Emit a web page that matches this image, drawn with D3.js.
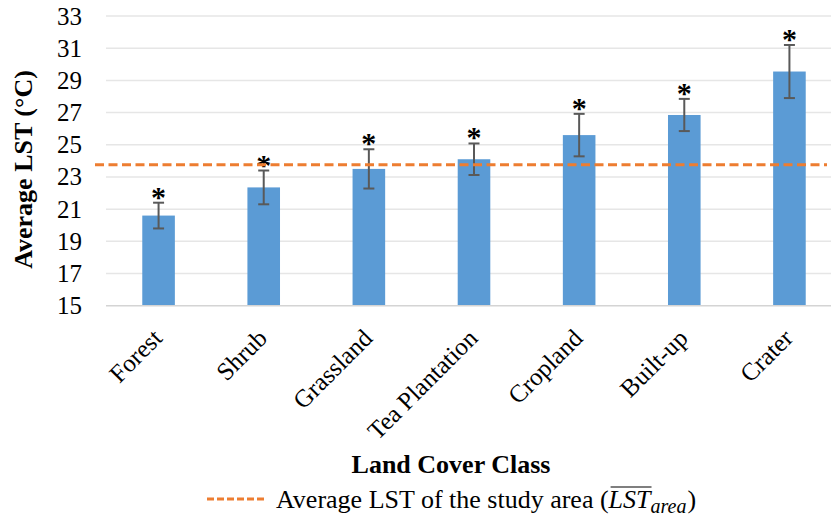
<!DOCTYPE html>
<html>
<head>
<meta charset="utf-8">
<script src="https://cdn.jsdelivr.net/npm/d3@7/dist/d3.min.js"></script>
<style>
  html, body { margin: 0; padding: 0; background: #fff; }
  svg { display: block; font-family: "Liberation Serif", "Times New Roman", serif; }
</style>
</head>
<body>
<svg id="chart" width="831" height="518"></svg>
<script>
// Average land surface temperature by land cover class
const categories = ["Forest", "Shrub", "Grassland", "Tea Plantation", "Cropland", "Built-up", "Crater"];
const meanLST = [20.6, 22.35, 23.5, 24.1, 25.6, 26.85, 29.55];
const errLST = [0.8, 1.05, 1.22, 0.98, 1.32, 1.0, 1.65];
const significance = ["*", "*", "*", "*", "*", "*", "*"];
const studyAreaLST = 23.75;
const yTicks = [15, 17, 19, 21, 23, 25, 27, 29, 31, 33];

const svg = d3.select("#chart");
const W = 831, H = 518;
const plot = { left: 106, right: 842, top: 16, bottom: 305.7 };
const serif = "Liberation Serif, Times New Roman, serif";

const x = d3.scaleBand()
  .domain(categories)
  .range([plot.left, plot.right])
  .paddingInner(0.69)
  .paddingOuter(0.345);

const y = d3.scaleLinear()
  .domain([15, 33])
  .range([plot.bottom, plot.top]);

// horizontal gridlines
svg.append("g")
  .selectAll("line")
  .data(yTicks.slice(1))
  .join("line")
  .attr("x1", plot.left).attr("x2", W)
  .attr("y1", d => y(d)).attr("y2", d => y(d))
  .attr("stroke", "#e6e6e6")
  .attr("stroke-width", 1.5);

// y axis labels
const yAxis = d3.axisLeft(y).tickValues(yTicks).tickSize(0).tickPadding(24);
const gy = svg.append("g")
  .attr("transform", `translate(${plot.left},0)`)
  .call(yAxis)
  .attr("font-family", serif);
gy.select(".domain").remove();
gy.selectAll("text")
  .attr("font-size", 25)
  .attr("fill", "#000");

// bars
svg.append("g")
  .selectAll("rect")
  .data(categories)
  .join("rect")
  .attr("x", d => x(d))
  .attr("width", x.bandwidth())
  .attr("y", (d, i) => y(meanLST[i]))
  .attr("height", (d, i) => y(15) - y(meanLST[i]))
  .attr("fill", "#5b9bd5");

// baseline
svg.append("line")
  .attr("x1", plot.left).attr("x2", W)
  .attr("y1", y(15)).attr("y2", y(15))
  .attr("stroke", "#d4d4d4")
  .attr("stroke-width", 1.5);

// error bars
const capHalf = 5.5;
const eb = svg.append("g")
  .attr("stroke", "#595959")
  .attr("stroke-width", 2)
  .selectAll("g")
  .data(categories)
  .join("g")
  .attr("transform", d => `translate(${x(d) + x.bandwidth() / 2},0)`);
eb.append("line")
  .attr("y1", (d, i) => y(meanLST[i] + errLST[i]))
  .attr("y2", (d, i) => y(meanLST[i] - errLST[i]));
eb.append("line")
  .attr("x1", -capHalf).attr("x2", capHalf)
  .attr("y1", (d, i) => y(meanLST[i] + errLST[i]))
  .attr("y2", (d, i) => y(meanLST[i] + errLST[i]));
eb.append("line")
  .attr("x1", -capHalf).attr("x2", capHalf)
  .attr("y1", (d, i) => y(meanLST[i] - errLST[i]))
  .attr("y2", (d, i) => y(meanLST[i] - errLST[i]));

// significance markers
svg.append("g")
  .selectAll("text")
  .data(categories)
  .join("text")
  .attr("x", d => x(d) + x.bandwidth() / 2)
  .attr("y", (d, i) => y(meanLST[i] + errLST[i]) + 4)
  .attr("text-anchor", "middle")
  .attr("font-size", 30)
  .attr("font-weight", "bold")
  .attr("fill", "#000")
  .text((d, i) => significance[i]);

// study area average line
svg.append("line")
  .attr("x1", plot.left - 11).attr("x2", W - 4)
  .attr("y1", y(studyAreaLST)).attr("y2", y(studyAreaLST))
  .attr("stroke", "#ed7d31")
  .attr("stroke-width", 3)
  .attr("stroke-dasharray", "9,4.5");

// category labels
svg.append("g")
  .selectAll("text")
  .data(categories)
  .join("text")
  .attr("transform", d => `translate(${x(d) + x.bandwidth() / 2 + 5},${y(15) + 34}) rotate(-45)`)
  .attr("text-anchor", "end")
  .attr("font-size", 25)
  .attr("fill", "#000")
  .text(d => d);

// axis titles
svg.append("text")
  .attr("transform", `translate(32,169.5) rotate(-90)`)
  .attr("text-anchor", "middle")
  .attr("font-size", 26)
  .attr("font-weight", "bold")
  .text("Average LST (°C)");

svg.append("text")
  .attr("x", 451).attr("y", 473)
  .attr("text-anchor", "middle")
  .attr("font-size", 26)
  .attr("font-weight", "bold")
  .text("Land Cover Class");

// legend
const lg = svg.append("g");
lg.append("line")
  .attr("x1", 207).attr("x2", 266)
  .attr("y1", 499).attr("y2", 499)
  .attr("stroke", "#ed7d31")
  .attr("stroke-width", 3)
  .attr("stroke-dasharray", "7,3");
const lt = lg.append("text")
  .attr("x", 276).attr("y", 508)
  .attr("font-size", 26)
  .attr("fill", "#000");
lt.append("tspan").text("Average LST of the study area (");
lt.append("tspan").attr("font-style", "italic").text("LST");
lt.append("tspan").attr("font-style", "italic").attr("font-size", 20).attr("dy", 5).text("area");
lt.append("tspan").attr("dy", -5).attr("dx", 1).text(")");

// overline over the LST symbol
const node = lt.node();
const startIdx = "Average LST of the study area (".length;
const ox1 = node.getStartPositionOfChar(startIdx).x;
const ox2 = node.getEndPositionOfChar(startIdx + 2).x;
lg.append("line")
  .attr("x1", ox1 + 2).attr("x2", ox2 + 1)
  .attr("y1", 487).attr("y2", 487)
  .attr("stroke", "#000")
  .attr("stroke-width", 1.2);
</script>
</body>
</html>
